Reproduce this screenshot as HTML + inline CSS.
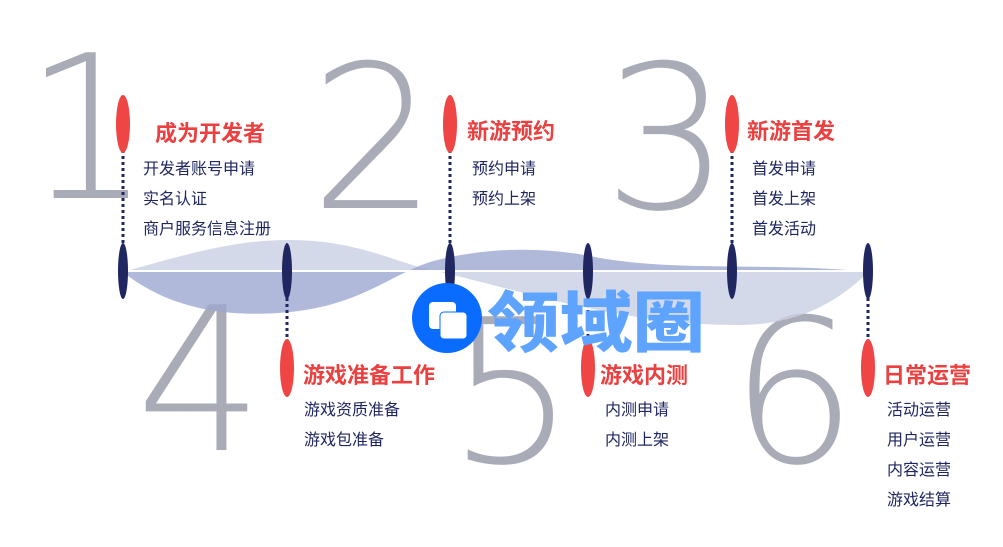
<!DOCTYPE html>
<html><head><meta charset="utf-8"><style>
html,body{margin:0;padding:0;background:#fff;}
body{width:1003px;height:547px;position:relative;overflow:hidden;font-family:"Liberation Sans","Noto Sans CJK SC",sans-serif;}
.num{position:absolute;font-family:"DejaVu Sans","Liberation Sans",sans-serif;font-weight:200;color:#a9abb7;font-size:200px;line-height:1;}
.t{position:absolute;color:#ea4040;font-weight:bold;font-size:22px;white-space:nowrap;}
.i{position:absolute;color:#1f2660;font-size:16px;line-height:30px;white-space:nowrap;}
svg{position:absolute;left:0;top:0;}
</style></head><body>
<div class="num" style="left:24px;top:30px;">1</div>
<div class="num" style="left:310px;top:40px;">2</div>
<div class="num" style="left:603px;top:40px;">3</div>
<div class="num" style="left:136px;top:282px;">4</div>
<div class="num" style="left:448px;top:294px;">5</div>
<div class="num" style="left:730px;top:294px;">6</div>
<svg width="1003" height="547">
<path d="M123,272 C200,250 240,240 290,240 C360,240 400,265 440,272 C520,290 620,325 740,325 C810,325 850,290 868,272 Z" fill="#c9cfe3" opacity="0.8"/>
<path d="M123,272 C170,310 230,318 290,312 C360,305 390,275 430,262 C480,248 540,245 600,258 C680,272 780,262 868,272 Z" fill="#9ea7d1" opacity="0.8"/>
<line x1="123" y1="271" x2="868" y2="271" stroke="#fff" stroke-width="2"/>
<g stroke="#1f2660" stroke-width="3" stroke-dasharray="3,3">
<line x1="123" y1="150" x2="123" y2="245"/><line x1="450" y1="150" x2="450" y2="245"/><line x1="732" y1="150" x2="732" y2="245"/>
<line x1="287" y1="298" x2="287" y2="342"/><line x1="588" y1="298" x2="588" y2="342"/><line x1="868" y1="298" x2="868" y2="342"/>
</g>
<g fill="#1f2660">
<ellipse cx="123" cy="271" rx="5" ry="28"/><ellipse cx="287" cy="271" rx="5" ry="28"/><ellipse cx="450" cy="271" rx="5" ry="28"/>
<ellipse cx="588" cy="271" rx="5" ry="28"/><ellipse cx="732" cy="271" rx="5" ry="28"/><ellipse cx="868" cy="271" rx="5" ry="28"/>
</g>
<g fill="#f04545">
<ellipse cx="123" cy="124" rx="7" ry="29"/><ellipse cx="450" cy="124" rx="7" ry="29"/><ellipse cx="732" cy="124" rx="7" ry="29"/>
<ellipse cx="287" cy="368" rx="7" ry="29"/><ellipse cx="588" cy="368" rx="7" ry="29"/><ellipse cx="868" cy="368" rx="7" ry="29"/>
</g>
<circle cx="447" cy="318" r="35" fill="#0a6cff"/>
<rect x="429" y="302" width="27" height="27" rx="4" fill="#fff"/>
<rect x="440" y="312" width="27" height="27" rx="4" fill="#fff" stroke="#0a6cff" stroke-width="1"/>
<text x="487" y="346" font-family="Noto Sans CJK SC,sans-serif" font-weight="900" font-size="66" fill="#5ea4ff" textLength="218" lengthAdjust="spacingAndGlyphs">领域圈</text>
</svg>
<div class="t" style="left:155px;top:116px;">成为开发者</div>
<div class="i" style="left:143px;top:155px;">开发者账号申请<br>实名认证<br>商户服务信息注册</div>
<div class="t" style="left:467px;top:114px;">新游预约</div>
<div class="i" style="left:472px;top:155px;">预约申请<br>预约上架</div>
<div class="t" style="left:747px;top:114px;">新游首发</div>
<div class="i" style="left:752px;top:155px;">首发申请<br>首发上架<br>首发活动</div>
<div class="t" style="left:303px;top:358px;">游戏准备工作</div>
<div class="i" style="left:304px;top:396px;">游戏资质准备<br>游戏包准备</div>
<div class="t" style="left:600px;top:358px;">游戏内测</div>
<div class="i" style="left:605px;top:396px;">内测申请<br>内测上架</div>
<div class="t" style="left:883px;top:358px;">日常运营</div>
<div class="i" style="left:887px;top:396px;">活动运营<br>用户运营<br>内容运营<br>游戏结算</div>
</body></html>
